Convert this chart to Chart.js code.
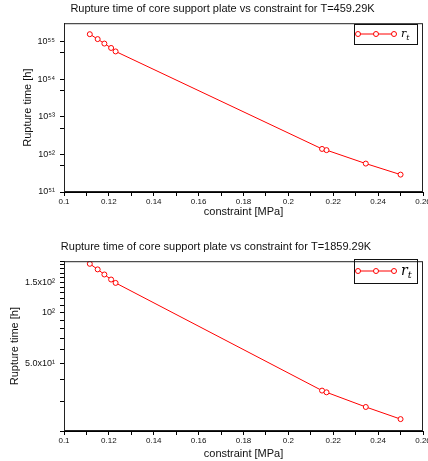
<!DOCTYPE html>
<html>
<head>
<meta charset="utf-8">
<script src="https://cdn.jsdelivr.net/npm/chart.js@4.4.1/dist/chart.umd.min.js"></script>
<style>
  body { margin: 0; background: #fff; }
  .box { position: absolute; left: 0; width: 428px; }
  #top { top: 0; height: 230px; }
  #bottom { top: 230px; height: 231px; }
</style>
</head>
<body>
<div class="box" id="top"><canvas id="chartHot"></canvas></div>
<div class="box" id="bottom"><canvas id="chartCold"></canvas></div>
<script>
// constraint [MPa] (same for both plots)
const constraint = [0.1115, 0.115, 0.118, 0.121, 0.123, 0.215, 0.217, 0.2345, 0.25];
// rupture time [h]
const rupture459 = [1.58e55, 1.17e55, 8.9e54, 6.8e54, 5.5e54, 1.4e52, 1.3e52, 5.7e51, 2.9e51];
const rupture1859 = [193, 179, 167, 156, 149, 34.6, 33.8, 27.7, 23.5];

// tick values and their labels
const ticks459 = [1e51, 5e51, 1e52, 5e52, 1e53, 5e53, 1e54, 5e54, 1e55];
const labels459 = { 1e51: "10⁵¹", 1e52: "10⁵²", 1e53: "10⁵³", 1e54: "10⁵⁴", 1e55: "10⁵⁵" };
const ticks1859 = [20, 30, 40, 50, 60, 70, 80, 90, 100, 110, 120, 130, 140, 150, 160, 170, 180, 190, 200];
const labels1859 = { 50: "5.0x10¹", 100: "10²", 150: "1.5x10²" };

const fontFam = "'Liberation Sans', Arial, sans-serif";

// frame around plot + legend with three markers
const framePlugin = {
    id: "frame",
    afterDraw(chart, args, opts) {
        const ctx = chart.ctx;
        const a = chart.chartArea;
        ctx.save();
        ctx.strokeStyle = "#222";
        ctx.lineWidth = 1;
        ctx.strokeRect(a.left + 0.5, a.top + 0.5, a.right - a.left - 1, a.bottom - a.top - 1);

        // legend box
        const lg = opts.legend;
        ctx.strokeStyle = "#111";
        ctx.strokeRect(lg.x + 0.5, lg.y + 0.5, lg.w, lg.h);
        const ly = lg.y + lg.h / 2;
        ctx.strokeStyle = "red";
        ctx.beginPath();
        ctx.moveTo(lg.x + 4, ly);
        ctx.lineTo(lg.x + 40, ly);
        ctx.stroke();
        [4, 22, 40].forEach((dx) => {
            ctx.beginPath();
            ctx.arc(lg.x + dx, ly, 2.5, 0, Math.PI * 2);
            ctx.fillStyle = "#fff";
            ctx.fill();
            ctx.stroke();
        });
        // r with subscript t
        ctx.fillStyle = "#000";
        ctx.textBaseline = "alphabetic";
        ctx.font = "italic " + lg.size + "px 'DejaVu Serif', serif";
        ctx.fillText("r", lg.x + 47, ly + lg.size * 0.3);
        const rw = ctx.measureText("r").width;
        ctx.font = "italic " + Math.round(lg.size * 0.7) + "px 'DejaVu Serif', serif";
        ctx.fillText("t", lg.x + 47 + rw, ly + lg.size * 0.5);
        ctx.restore();
    },
};

function makeChart(id, values, yTicks, yLabels, yMin, yMax, title, titlePad, padLeft, xHeight, xTitlePad, legend) {
    return new Chart(document.getElementById(id), {
        type: "line",
        data: {
            datasets: [
                {
                    label: "r_t",
                    data: constraint.map((x, i) => ({ x: x, y: values[i] })),
                    borderColor: "red",
                    borderWidth: 1,
                    pointRadius: 2.5,
                    pointBorderWidth: 1,
                    pointBackgroundColor: "#fff",
                    pointBorderColor: "red",
                    tension: 0,
                },
            ],
        },
        options: {
            responsive: true,
            maintainAspectRatio: false,
            animation: false,
            layout: { padding: { left: padLeft, right: 4, top: 0, bottom: 0 } },
            plugins: {
                legend: { display: false },
                tooltip: { enabled: false },
                title: {
                    display: true,
                    text: title,
                    color: "#111",
                    font: { family: fontFam, size: 11, weight: "normal" },
                    padding: titlePad,
                },
                frame: { legend: legend },
            },
            scales: {
                x: {
                    type: "linear",
                    min: 0.1,
                    max: 0.26,
                    afterFit: (s) => {
                        s.height = xHeight;
                        s.paddingLeft = 0;
                        s.paddingRight = 0;
                    },
                    grid: { drawOnChartArea: false, tickLength: 4, color: "#000" },
                    border: { color: "#000" },
                    ticks: {
                        stepSize: 0.01,
                        autoSkip: false,
                        maxRotation: 0,
                        padding: 1,
                        color: "#111",
                        font: { family: fontFam, size: 8 },
                        callback: (v) => {
                            const h = Math.round(v * 100);
                            return h % 2 ? "" : String(h / 100);
                        },
                    },
                    title: {
                        display: true,
                        text: "constraint [MPa]",
                        color: "#111",
                        font: { family: fontFam, size: 11 },
                        padding: { top: 0, bottom: xTitlePad },
                    },
                },
                y: {
                    type: "logarithmic",
                    min: yMin,
                    max: yMax,
                    afterFit: (s) => { s.width = 64 - padLeft; },
                    afterBuildTicks: (s) => {
                        s.ticks = yTicks.map((v) => ({ value: v }));
                    },
                    grid: { drawOnChartArea: false, tickLength: 4, color: "#000" },
                    border: { color: "#000" },
                    ticks: {
                        autoSkip: false,
                        padding: 5,
                        color: "#111",
                        font: { family: fontFam, size: 9 },
                        callback: (v) => yLabels[v] || "",
                    },
                    title: {
                        display: true,
                        text: "Rupture time [h]",
                        color: "#111",
                        font: { family: fontFam, size: 11 },
                        padding: { top: 0, bottom: 0 },
                    },
                },
            },
        },
        plugins: [framePlugin],
    });
}

makeChart("chartHot", rupture459, ticks459, labels459, 1e51, 3.1e55,
    "Rupture time of core support plate vs constraint for T=459.29K",
    { top: 2, bottom: 8 }, 21, 38, 11,
    { x: 354, y: 24, w: 63, h: 20, size: 11 });

makeChart("chartCold", rupture1859, ticks1859, labels1859, 20, 200,
    "Rupture time of core support plate vs constraint for T=1859.29K",
    { top: 10, bottom: 8 }, 8, 30, 0,
    { x: 354, y: 29, w: 63, h: 24, size: 14 });
</script>
</body>
</html>
